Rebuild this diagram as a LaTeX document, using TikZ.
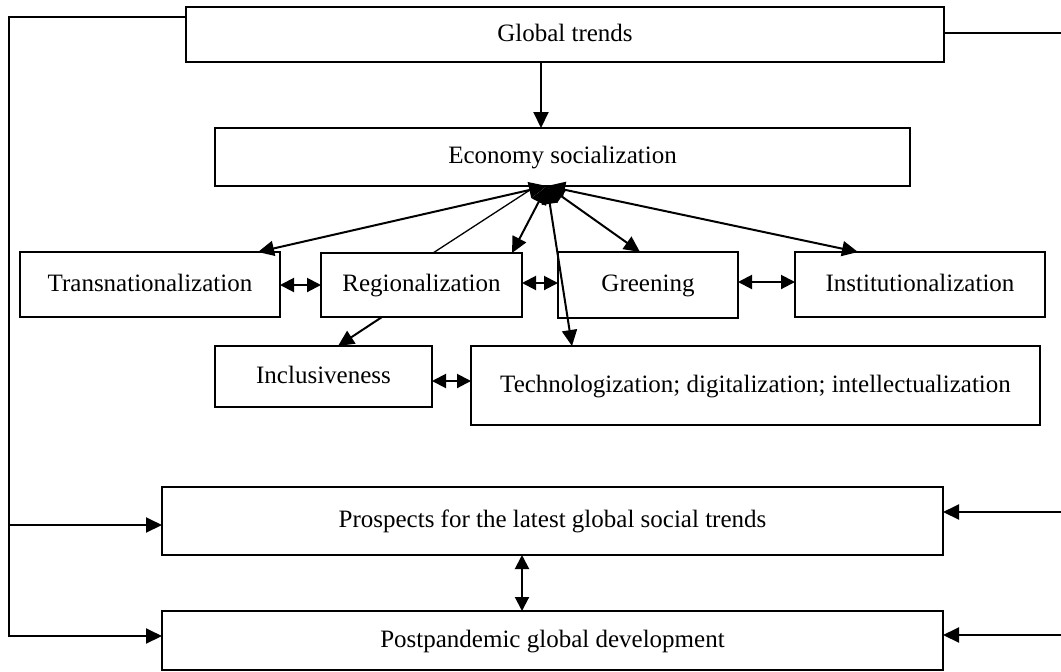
\documentclass[tikz,border=0pt]{standalone}
\usepackage{fontspec}
\setmainfont{Liberation Serif}
\usetikzlibrary{arrows.meta}
\begin{document}
\begin{tikzpicture}[x=0.5pt,y=-0.5pt,
 box/.style={draw,line width=0.8pt,inner sep=0pt,outer sep=0pt,text height=0.66em,text depth=0pt,font=\fontsize{12.5}{15}\selectfont},
 arr/.style={line width=1pt,-{Triangle[length=8pt,width=7.5pt]}},
 darr/.style={line width=1pt,{Triangle[length=7pt,width=7pt]}-{Triangle[length=7pt,width=7pt]}},
 fan/.style={line width=1pt,{Triangle[length=9pt,width=8pt]}-{Triangle[length=8pt,width=7.5pt]}},
 plain/.style={line width=1pt},
 thin/.style={line width=0.65pt}
]
\useasboundingbox (0,0) rectangle (1061,671);
% boxes
\node[box,line width=1pt,minimum width=379pt,minimum height=27.5pt] (gt) at (565,34.5) {Global trends};
\node[box,minimum width=347.5pt,minimum height=29pt] (es) at (562.5,157) {Economy socialization};
\node[box,minimum width=130pt,minimum height=32.5pt] (tr) at (150,284.5) {Transnationalization};
\node[box,minimum width=100.5pt,minimum height=32pt] (rg) at (421.5,285) {Regionalization};
\node[box,minimum width=90pt,minimum height=33pt] (gr) at (648,285) {Greening};
\node[box,minimum width=125pt,minimum height=32.5pt] (in) at (920,284.5) {Institutionalization};
\node[box,minimum width=108.5pt,minimum height=30.5pt] (ic) at (323.5,376.5) {Inclusiveness};
\node[box,minimum width=284.5pt,minimum height=39.5pt] (te) at (755.5,385.5) {Technologization; digitalization; intellectualization};
\node[box,minimum width=390.5pt,minimum height=34pt] (pr) at (552.5,521) {Prospects for the latest global social trends};
\node[box,minimum width=390.5pt,minimum height=29.5pt] (pd) at (552.5,640.5) {Postpandemic global development};
% helper coordinates
\coordinate (xa) at (541,0);
\coordinate (xb) at (522,0);
\coordinate (lt) at (9,17);
\coordinate (lb) at (9,637);
\coordinate (l1) at (9,525);
\coordinate (l2) at (9,636);
\coordinate (rt) at (1061,33);
\coordinate (r1) at (1061,512);
\coordinate (r2) at (1061,635);
\coordinate (hub) at (547,186);
\coordinate (hubl) at (533,188);
\coordinate (ta) at (258,0);
\coordinate (ra) at (512,0);
\coordinate (rl) at (433,0);
\coordinate (ga) at (640,0);
\coordinate (ia) at (858,0);
\coordinate (tea) at (572,0);
\coordinate (ris) at (382,0);
\coordinate (ica) at (338,0);
\coordinate (yh1) at (0,285);
\coordinate (yh2) at (0,283);
\coordinate (yh3) at (0,282);
\coordinate (yh4) at (0,381);
% top connectors
\draw[arr] (gt.south -| xa) -- (es.north -| xa);
\draw[plain] (gt.west |- lt) -- (lt) -- (lb);
\draw[arr] (l1) -- (l1 -| pr.west);
\draw[arr] (l2) -- (l2 -| pd.west);
\draw[plain] (gt.east |- rt) -- (rt);
\draw[arr] (r1) -- (r1 -| pr.east);
\draw[arr] (r2) -- (r2 -| pd.east);
% fan from economy socialization
\draw[fan] (hub) -- (tr.north -| ta);
\draw[fan] (hub) -- (rg.north -| ra);
\draw[thin] (rg.north -| rl) -- (hubl);
\draw[fan] (hub) -- (gr.north -| ga);
\draw[fan] (hub) -- (in.north -| ia);
\draw[fan] (hub) -- (te.north -| tea);
% row links
\draw[darr] (tr.east |- yh1) -- (rg.west |- yh1);
\draw[darr] (rg.east |- yh2) -- (gr.west |- yh2);
\draw[darr] (gr.east |- yh3) -- (in.west |- yh3);
\draw[darr] (ic.east |- yh4) -- (te.west |- yh4);
\draw[arr] (rg.south -| ris) -- (ic.north -| ica);
% bottom
\draw[darr] (pr.south -| xb) -- (pd.north -| xb);
\end{tikzpicture}
\end{document}
